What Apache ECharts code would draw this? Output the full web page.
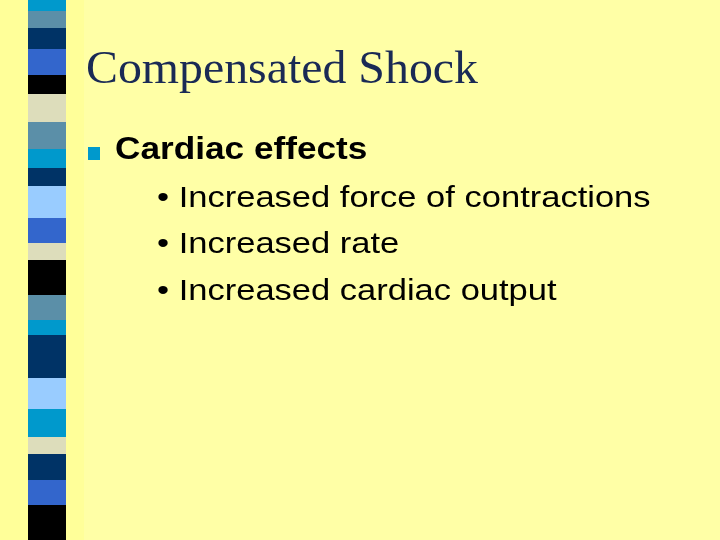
<!DOCTYPE html><html><head><meta charset="utf-8"><script src="https://cdn.jsdelivr.net/npm/echarts@6/dist/echarts.min.js"></script>
<style>html,body{margin:0;padding:0;background:#ffffa6}#c{width:720px;height:540px}</style></head><body><div id="c"></div><script>
const stripeHeights=[11,17,21,26,19,28,27,19,18,32,25,17,35,25,15,43,31,28,17,26,25,35];
const stripeColors=['#0099cc','#5b8fa8','#003366','#3366cc','#000000','#ddddbb','#5b8fa8','#0099cc','#003366','#99ccff','#3366cc','#ddddbb','#000000','#5b8fa8','#0099cc','#003366','#99ccff','#0099cc','#ddddbb','#003366','#3366cc','#000000'];
const titleText='Compensated Shock';
const mainBullet='Cardiac effects';
const subBullets=['Increased force of contractions','Increased rate','Increased cardiac output'];
const chart=echarts.init(document.getElementById('c'));
const series=stripeHeights.map((h,i)=>({type:'bar',stack:'s',data:[h],barWidth:'100%',itemStyle:{color:stripeColors[i]},silent:true}));
const g=[
 {type:'rect',left:0,top:0,shape:{width:84,height:540},style:{fill:'#ffff99'},z:-1},
 {type:'text',x:86,y:48,scaleX:1.04,style:{text:titleText,font:'46px "Liberation Serif", serif',fill:'#1a2a55'}},
 {type:'rect',left:88,top:147,shape:{width:12,height:13},style:{fill:'#0099cc'}},
 {type:'text',x:115,y:134,scaleX:1.1,style:{text:mainBullet,font:'bold 32px "Liberation Sans", Arial',fill:'#000'}}
];
subBullets.forEach((t,i)=>g.push({type:'text',x:157,y:184+i*46.5,scaleX:1.19,style:{text:'• '+t,font:'29px "Liberation Sans", Arial',fill:'#000'}}));
chart.setOption({animation:false,
 grid:{left:28,width:38,top:0,bottom:0},
 xAxis:{type:'category',data:['s'],show:false},
 yAxis:{type:'value',min:0,max:540,inverse:true,show:false},
 series:series,graphic:g});
</script></body></html>
